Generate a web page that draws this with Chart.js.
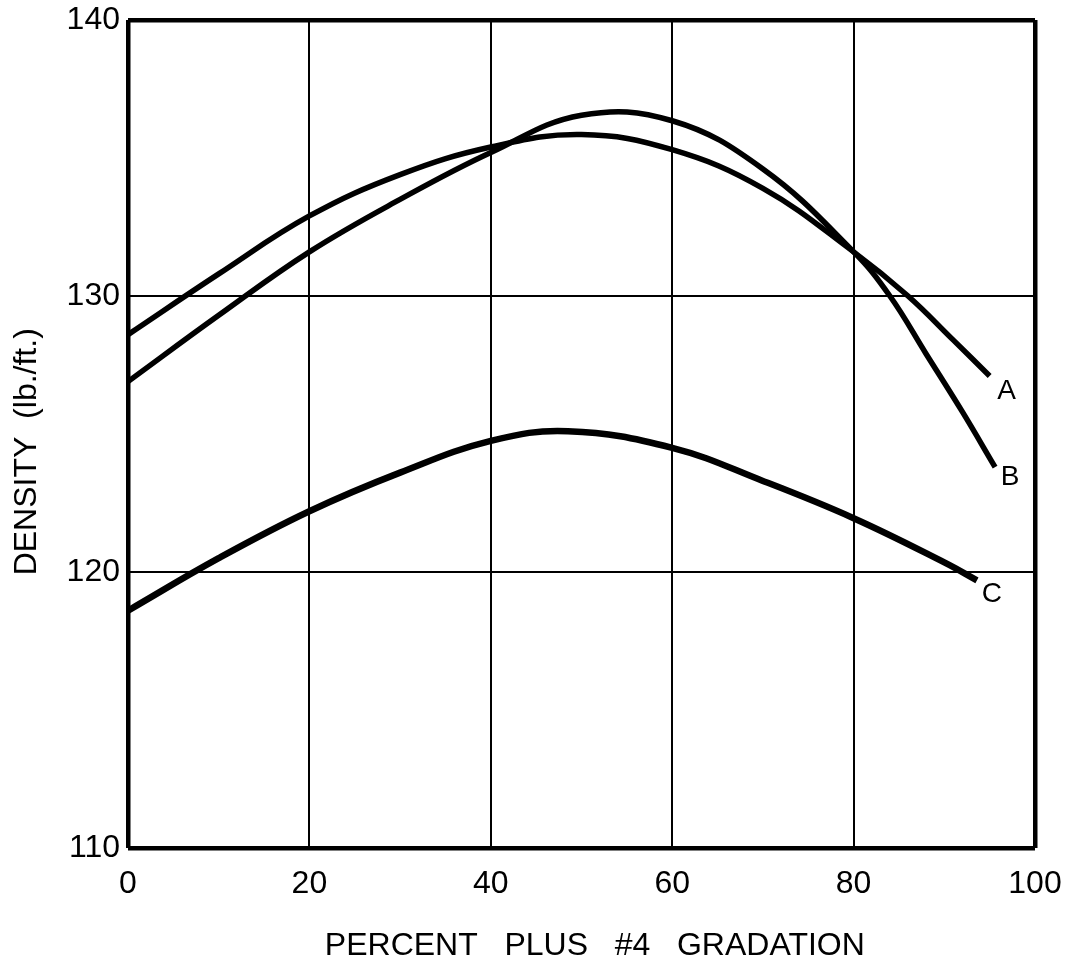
<!DOCTYPE html>
<html>
<head>
<meta charset="utf-8">
<style>
  html, body { margin: 0; padding: 0; background: #fff; }
  #wrap { width: 1066px; height: 962px; }
</style>
</head>
<body>
<div id="wrap"><canvas id="chart" width="1066" height="962"></canvas></div>
<script src="https://cdn.jsdelivr.net/npm/chart.js@4.4.0/dist/chart.umd.min.js"></script>
<script>
// values
const curveAx = [0, 10, 20, 30, 40, 50, 60, 70, 80, 86, 91, 95];
const curveAy = [128.6, 130.8, 132.9, 134.4, 135.4, 135.85, 135.3, 133.9, 131.6, 130.0, 128.4, 127.1];

const curveBx = [0, 10, 20, 30, 40, 50, 60, 70, 80, 84, 88, 92, 95.6];
const curveBy = [126.9, 129.3, 131.6, 133.5, 135.2, 136.55, 136.35, 134.6, 131.6, 130.0, 127.9, 125.8, 123.8];

const curveCx = [0, 10, 20, 30, 40, 48.5, 60, 70, 80, 90, 93.6];
const curveCy = [118.6, 120.5, 122.2, 123.6, 124.75, 125.1, 124.5, 123.3, 121.95, 120.35, 119.7];

const curveNames = ['A', 'B', 'C'];
const xTicks = [0, 20, 40, 60, 80, 100];
const yTicks = [110, 120, 130, 140];

const FONT = '"Liberation Sans", "DejaVu Sans", sans-serif';

function toPoints(xs, ys) {
  return xs.map((x, i) => ({ x: x, y: ys[i] }));
}

// pixel nudges for the A/B/C letters next to the line ends
const labelOffsets = [[17, 15], [15, 10], [15, 14]];

const endLabels = {
  id: 'endLabels',
  afterDatasetsDraw(chart) {
    const ctx = chart.ctx;
    ctx.save();
    ctx.font = '28px ' + FONT;
    ctx.fillStyle = '#000';
    ctx.textAlign = 'center';
    ctx.textBaseline = 'middle';
    chart.data.datasets.forEach((ds, i) => {
      const pts = chart.getDatasetMeta(i).data;
      const last = pts[pts.length - 1];
      const off = labelOffsets[i];
      ctx.fillText(ds.label, last.x + off[0], last.y + off[1]);
    });
    ctx.restore();
  }
};

const edgeWidth = (edges) => (c) => edges.includes(c.tick && c.tick.value) ? 4.5 : 2;

const line = (name, xs, ys, w) => ({
  label: name,
  data: toPoints(xs, ys),
  borderColor: '#000',
  borderWidth: w,
  pointRadius: 0,
  fill: false,
  tension: 0.4
});

new Chart(document.getElementById('chart').getContext('2d'), {
  type: 'line',
  data: {
    datasets: [
      line(curveNames[0], curveAx, curveAy, 5.5),
      line(curveNames[1], curveBx, curveBy, 5.5),
      line(curveNames[2], curveCx, curveCy, 6.5)
    ]
  },
  options: {
    responsive: false,
    animation: false,
    layout: { padding: { top: 20, right: 31, left: 0, bottom: 0 } },
    plugins: { legend: { display: false }, tooltip: { enabled: false } },
    scales: {
      x: {
        type: 'linear',
        min: 0,
        max: 100,
        afterBuildTicks: (s) => { s.ticks = xTicks.map(v => ({ value: v })); },
        afterFit: (s) => { s.height = 114; s.paddingLeft = 0; s.paddingRight = 0; },
        ticks: { color: '#000', padding: 17, font: { family: FONT, size: 32 } },
        grid: { color: '#000', lineWidth: edgeWidth([0, 100]), drawTicks: false },
        border: { display: false },
        title: {
          display: true,
          text: '   PERCENT   PLUS   #4   GRADATION',
          color: '#000',
          font: { family: FONT, size: 32, lineHeight: 1 },
          padding: { top: 0, bottom: 0 }
        }
      },
      y: {
        min: 110,
        max: 140,
        afterBuildTicks: (s) => { s.ticks = yTicks.map(v => ({ value: v })); },
        afterFit: (s) => { s.width = 128; s.paddingTop = 0; s.paddingBottom = 0; },
        ticks: { color: '#000', padding: 8, font: { family: FONT, size: 32 } },
        grid: { color: '#000', lineWidth: edgeWidth([110, 140]), drawTicks: false },
        border: { display: false },
        title: {
          display: true,
          // trailing spaces push the visible text a little lower, as in the scan
          text: 'DENSITY  (lb./ft.)    ',
          color: '#000',
          font: { family: FONT, size: 32 },
          padding: { top: 8, bottom: 0 }
        }
      }
    }
  },
  plugins: [endLabels]
});
</script>
</body>
</html>
